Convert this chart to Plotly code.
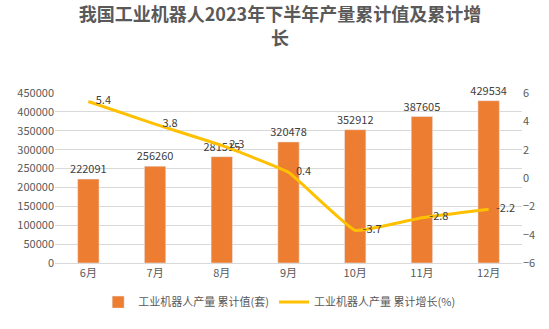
import plotly.graph_objects as go

months = ["6月", "7月", "8月", "9月", "10月", "11月", "12月"]
output_cum = [222091, 256260, 281515, 320478, 352912, 387605, 429534]
growth_cum = [5.4, 3.8, 2.3, 0.4, -3.7, -2.8, -2.2]

FONT = "Noto Sans CJK SC"
TXT = "#595959"

fig = go.Figure()
fig.add_trace(go.Bar(
    x=months, y=output_cum, name="工业机器人产量 累计值(套)",
    marker_color="#ED7D31", width=0.32,
    text=[str(v) for v in output_cum], textposition="outside",
    constraintext="none",
    textfont=dict(size=11, color="#404040"), cliponaxis=False,
))
fig.add_trace(go.Scatter(
    x=months, y=growth_cum, name="工业机器人产量 累计增长(%)",
    mode="lines+text",
    line=dict(color="#FFC000", width=3, shape="spline", smoothing=0.3),
    text=["   " + str(v) for v in growth_cum], textposition="middle right",
    textfont=dict(size=11, color="#404040"), yaxis="y2", cliponaxis=False,
))

fig.update_layout(
    width=549, height=329,
    margin=dict(l=55, r=27, t=93, b=61),
    paper_bgcolor="white", plot_bgcolor="white",
    font=dict(family=FONT, color=TXT, size=11),
    title=dict(text="我国工业机器人2023年下半年产量累计值及累计增<br>长",
               x=0.51, xanchor="center", y=0.935, yanchor="top",
               font=dict(size=18, color=TXT, family=FONT, weight="bold")),
    xaxis=dict(showgrid=False, showline=True, linecolor="#d9d9d9", ticks="",
               tickfont=dict(size=11, color=TXT)),
    yaxis=dict(range=[0, 450000], dtick=50000, showgrid=True, gridcolor="#d9d9d9",
               zeroline=False, tickformat="d", tickfont=dict(size=11, color=TXT)),
    yaxis2=dict(range=[-6, 6], dtick=2, overlaying="y", side="right",
                showgrid=False, zeroline=False, tickfont=dict(size=11, color=TXT)),
    legend=dict(orientation="h", x=0.48, xanchor="center", y=-0.23, yanchor="middle",
                font=dict(size=11, color=TXT)),
    bargap=0.5, showlegend=True,
)

fig.write_html("out.html")
